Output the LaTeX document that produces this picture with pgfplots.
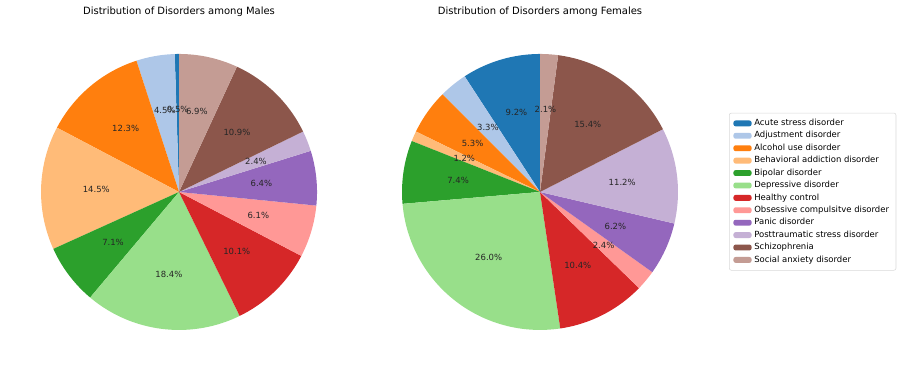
\documentclass[border=0pt]{standalone}
\usepackage{pgfplots}
\pgfplotsset{compat=1.18}
\usepackage{fontspec}
\setmainfont{DejaVu Sans}
\definecolor{c1}{HTML}{1F77B4}
\definecolor{c2}{HTML}{AEC7E8}
\definecolor{c3}{HTML}{FF7F0E}
\definecolor{c4}{HTML}{FFBB78}
\definecolor{c5}{HTML}{2CA02C}
\definecolor{c6}{HTML}{98DF8A}
\definecolor{c7}{HTML}{D62728}
\definecolor{c8}{HTML}{FF9896}
\definecolor{c9}{HTML}{9467BD}
\definecolor{c10}{HTML}{C5B0D5}
\definecolor{c11}{HTML}{8C564B}
\definecolor{c12}{HTML}{C49C94}
\newcommand\lblfont{\fontsize{6.1}{7.3}\selectfont}
\newcommand\ttlfont{\fontsize{7.2}{8.6}\selectfont}
\def\cum{90}
\def\normf{1}
\def\labels{}
\newcommand{\slice}[2]{%
  \pgfmathsetmacro\sa{\cum}%
  \pgfmathsetmacro\sb{\cum+3.6*#1*\normf}%
  \pgfmathsetmacro\sm{(\sa+\sb)/2}%
  \pgfmathsetmacro\lx{0.6*cos(\sm)}%
  \pgfmathsetmacro\ly{0.6*sin(\sm)}%
  \edef\doslice{\noexpand\addplot[fill=#2, draw=none, domain=\sa:\sb, samples=60] ({cos(x)},{sin(x)}) -- (axis cs:0,0) -- cycle;}%
  \doslice
  \xdef\labels{\unexpanded\expandafter{\labels}\noexpand\node[font=\noexpand\lblfont, inner sep=0pt, text=black!85] at (axis cs:\lx,\ly) {#1\noexpand\%};}%
  \xdef\cum{\sb}%
}
\pgfplotsset{pie/.style={scale only axis, width=198.7pt, height=198.7pt,
  xmin=-1, xmax=1, ymin=-1, ymax=1, hide axis, clip=false, anchor=origin}}
\begin{document}
\begin{tikzpicture}
\useasboundingbox (0,0) rectangle (648pt,267.12pt);
% Males
\begin{axis}[pie, at={(128.9pt,128.9pt)}]
\gdef\cum{90}\gdef\normf{0.999}\gdef\labels{}
\slice{0.5}{c1}
\slice{4.5}{c2}
\slice{12.3}{c3}
\slice{14.5}{c4}
\slice{7.1}{c5}
\slice{18.4}{c6}
\slice{10.1}{c7}
\slice{6.1}{c8}
\slice{6.4}{c9}
\slice{2.4}{c10}
\slice{10.9}{c11}
\slice{6.9}{c12}
\labels
\end{axis}
% Females
\begin{axis}[pie, at={(388.8pt,128.9pt)},
  legend cell align=left,
  legend image code/.code={\fill[#1] (0pt,-2.1pt) rectangle (13pt,2.1pt);},
  legend style={at={(1.185,0.787)}, anchor=north west, draw=black!15, rounded corners=1.5pt,
    font=\lblfont, row sep=0pt, inner xsep=3pt, inner ysep=3pt,
    nodes={inner ysep=1.4pt}}]
\gdef\cum{90}\gdef\normf{0.999}\gdef\labels{}
\slice{9.2}{c1}
\slice{3.3}{c2}
\slice{5.3}{c3}
\slice{1.2}{c4}
\slice{7.4}{c5}
\slice{26.0}{c6}
\slice{10.4}{c7}
\slice{2.4}{c8}
\slice{6.2}{c9}
\slice{11.2}{c10}
\slice{15.4}{c11}
\slice{2.1}{c12}
\labels
\legend{Acute stress disorder, Adjustment disorder, Alcohol use disorder, Behavioral addiction disorder, Bipolar disorder, Depressive disorder, Healthy control, Obsessive compulsitve disorder, Panic disorder, Posttraumatic stress disorder, Schizophrenia, Social anxiety disorder}
\end{axis}
\node[font=\ttlfont] at (128.9pt,258.5pt) {Distribution of Disorders among Males};
\node[font=\ttlfont] at (388.8pt,258.5pt) {Distribution of Disorders among Females};
\end{tikzpicture}
\end{document}
